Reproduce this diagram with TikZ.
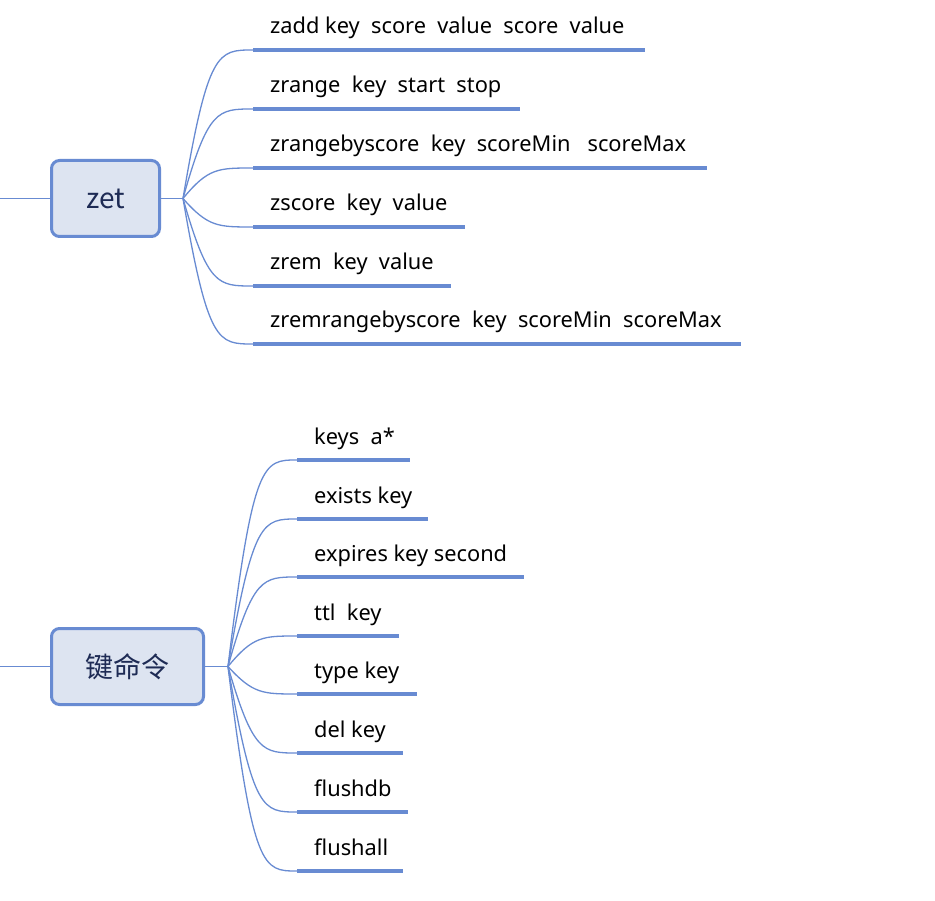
\documentclass[tikz,border=0pt]{standalone}
\usepackage{fontspec}
\setmainfont{Noto Sans}
\newfontfamily\cjkfont{Noto Sans CJK SC}
\usetikzlibrary{calc, positioning}
\definecolor{mindblue}{RGB}{104, 139, 210}
\definecolor{mindfill}{RGB}{221, 228, 241}
\definecolor{mindtext}{RGB}{30, 43, 85}

\begin{document}
\begin{tikzpicture}[x=1pt, y=-1pt,
    topic/.style={draw=mindblue, fill=mindfill, line width=3pt, rounded corners=8pt,
        minimum height=76pt, inner sep=0pt, text=mindtext, font=\cjkfont\fontsize{28}{32}\selectfont},
    leaf/.style={inner sep=0pt, text depth=0pt, font=\fontsize{21.8}{26}\selectfont},
    branch/.style={draw=mindblue, line width=1.3pt},
    underline/.style={draw=mindblue, line width=4.5pt}]
    \useasboundingbox (0,0) rectangle (935,901);

    \node[topic, minimum width=108pt] (zet) at (105.5, 198.5) {zet};
    \node[topic, minimum width=152pt] (keycmd) at (127.5, 666.5) {键命令};

    \coordinate (zin) at (0, 198.5);
    \coordinate (kin) at (0, 666.5);
    \coordinate (zhub) at (183, 198.5);
    \coordinate (khub) at (228, 666.5);
    \draw[branch] (zin) -- (zet) -- (zhub);
    \draw[branch] (kin) -- (keycmd) -- (khub);

    % zet commands
    \foreach \i/\y/\e/\t in {1/50/645/{zadd key~ score~ value~ score~ value},
                             2/109/520/{zrange~ key~ start~ stop},
                             3/168/707/{zrangebyscore~ key~ scoreMin~~ scoreMax},
                             4/227/465/{zscore~ key~ value},
                             5/286/451/{zrem~ key~ value},
                             6/344/741/{zremrangebyscore~ key~ scoreMin~ scoreMax}} {
        \coordinate (zs\i) at (253, \y);
        \coordinate (ze\i) at (\e, \y);
        \node[leaf, above right=16pt and 17pt of zs\i, anchor=base west] (zl\i) {\t};
        \draw[underline] (zs\i) -- (ze\i);
        \draw[branch] (zhub) .. controls ($(zhub|-zs\i)+(25,0)$) and ($(zhub|-zs\i)+(35,0)$) .. (zs\i);
    }

    % key commands
    \foreach \i/\y/\e/\t in {1/460/410/{keys~ a*},
                             2/519/428/{exists key},
                             3/577/524/{expires key second},
                             4/636/399/{ttl~ key},
                             5/694/417/{type key},
                             6/753/403/{del key},
                             7/812/408/{flushdb},
                             8/871/403/{flushall}} {
        \coordinate (ks\i) at (297, \y);
        \coordinate (ke\i) at (\e, \y);
        \node[leaf, above right=16pt and 17pt of ks\i, anchor=base west] (kl\i) {\t};
        \draw[underline] (ks\i) -- (ke\i);
        \draw[branch] (khub) .. controls ($(khub|-ks\i)+(25,0)$) and ($(khub|-ks\i)+(35,0)$) .. (ks\i);
    }
\end{tikzpicture}
\end{document}
